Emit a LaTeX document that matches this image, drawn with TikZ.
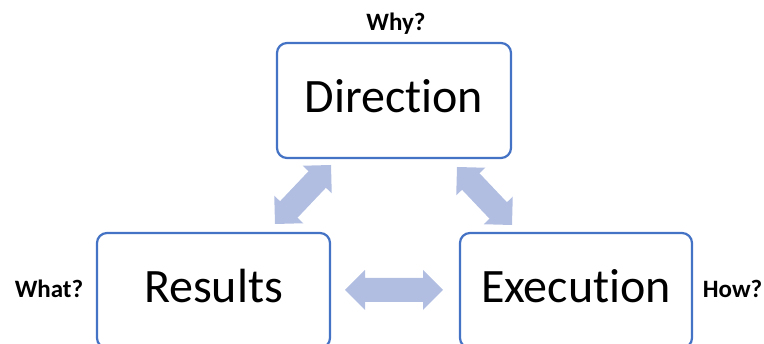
\documentclass[tikz,border=0pt]{standalone}
\usepackage{fontspec}
\setmainfont{Carlito}[RawFeature=-liga]
\usetikzlibrary{calc}

\definecolor{boxline}{HTML}{4472C4}
\definecolor{arrowfill}{HTML}{B1BEE1}

% two-headed block arrow between two named points:
% heads 20pt long and 40pt wide, shaft 24pt wide
\newcommand\blockarrow[2]{%
  \fill[arrowfill] (#1)
    -- ($(#1)!20pt!(#2)!20pt!90:(#2)$)
    -- ($(#1)!20pt!(#2)!12pt!90:(#2)$)
    -- ($(#2)!20pt!(#1)!12pt!-90:(#1)$)
    -- ($(#2)!20pt!(#1)!20pt!-90:(#1)$)
    -- (#2)
    -- ($(#2)!20pt!(#1)!20pt!90:(#1)$)
    -- ($(#2)!20pt!(#1)!12pt!90:(#1)$)
    -- ($(#1)!20pt!(#2)!12pt!-90:(#2)$)
    -- ($(#1)!20pt!(#2)!20pt!-90:(#2)$)
    -- cycle;}

\begin{document}
\begin{tikzpicture}[x=1pt,y=1pt,
  stage/.style={draw=boxline, line width=2.2pt, rounded corners=10pt,
    fill=white, minimum width=#1, minimum height=115pt, inner sep=0pt,
    text height=33pt, text depth=8pt,
    font=\fontsize{48}{48}\selectfont},
  question/.style={font=\fontsize{25}{25}\selectfont\bfseries, inner sep=0pt}]
\useasboundingbox (0,0) rectangle (764,344);
\clip (0,0) rectangle (764,344);

% the three stages
\node[stage=234pt] (direction) at (394,243.5) {Direction};
\node[stage=233pt] (results)   at (213.5,53.5) {Results};
\node[stage=232pt] (execution) at (576,53.5) {Execution};

% the questions each stage answers
\node[question] (why)  at (396,320) {Why?};
\node[question] (what) at (49,55)   {What?};
\node[question] (how)  at (732.5,55) {How?};

% end points of the links between stages
\coordinate (dr1) at (331,179);
\coordinate (dr2) at (275,120);
\coordinate (de1) at (457,177);
\coordinate (de2) at (512,119);
\coordinate (re1) at (345,54);
\coordinate (re2) at (443,54);

\blockarrow{dr1}{dr2}
\blockarrow{de1}{de2}
\blockarrow{re1}{re2}
\end{tikzpicture}
\end{document}
